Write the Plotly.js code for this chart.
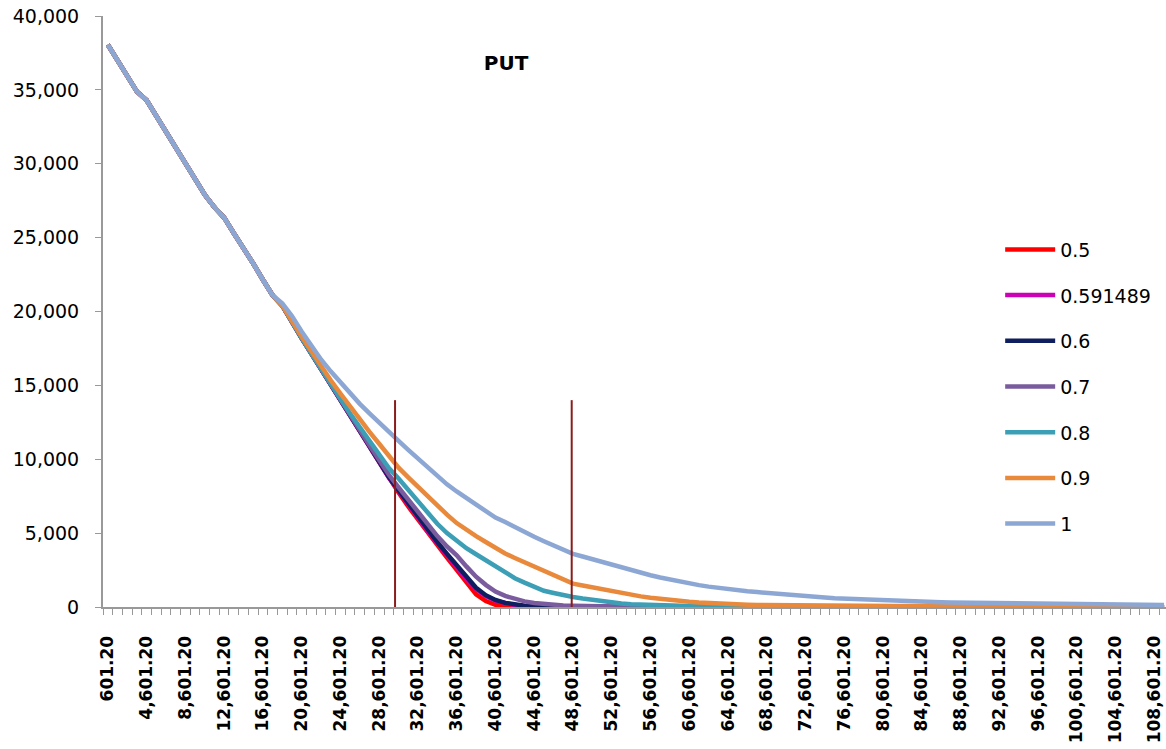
<!DOCTYPE html>
<html><head><meta charset="utf-8">
<script src="https://cdn.plot.ly/plotly-3.0.1.min.js"></script>
<style>html,body{margin:0;padding:0;background:#fff}#chart{width:1166px;height:749px}</style>
</head><body><div id="chart"></div>
<script>
// Category axis: underlying prices 601.20, 1,601.20, ... 109,601.20
const firstPrice = 601.2;
const priceStep = 1000;
const priceCount = 110;
const prices = Array.from({length: priceCount}, (_, i) => firstPrice + priceStep * i);
const labelEvery = 4;

const seriesNames = ['0.5', '0.591489', '0.6', '0.7', '0.8', '0.9', '1'];

const put05 = [38050,37000,35900,34880,34300,33250,32150,31100,30050,28980,
  27900,27050,26350,25300,24300,23250,22150,21100,20400,19250,
  18200,17150,16100,15050,14000,12950,11880,10800,9750,8700,
  7750,6800,5900,5000,4200,3350,2550,1700,850,400,
  150,50,10,0,0,0,0,0,0,0,
  0,0,0,0,0,0,0,0,0,0, 0,0,0,0,0,0,0,0,0,0, 0,0,0,0,0,0,0,0,0,0,
  0,0,0,0,0,0,0,0,0,0, 0,0,0,0,0,0,0,0,0,0, 0,0,0,0,0,0,0,0,0,0];

const put0591 = [38050,37000,35900,34880,34300,33250,32150,31100,30050,28980,
  27900,27050,26350,25300,24300,23250,22150,21100,20400,19250,
  18200,17150,16100,15050,14000,12950,11900,10850,9780,8750,
  7850,6930,6030,5150,4320,3500,2740,1900,1220,740,
  430,240,130,70,30,12,4,0,0,0,
  0,0,0,0,0,0,0,0,0,0, 0,0,0,0,0,0,0,0,0,0, 0,0,0,0,0,0,0,0,0,0,
  0,0,0,0,0,0,0,0,0,0, 0,0,0,0,0,0,0,0,0,0, 0,0,0,0,0,0,0,0,0,0];

const put06 = [38050,37000,35900,34880,34300,33250,32150,31100,30050,28980,
  27900,27050,26350,25300,24300,23250,22150,21100,20400,19250,
  18200,17150,16100,15050,14000,12950,11900,10850,9800,8800,
  7900,7000,6100,5250,4400,3600,2850,2000,1300,800,
  480,280,160,90,45,20,8,0,0,0,
  0,0,0,0,0,0,0,0,0,0, 0,0,0,0,0,0,0,0,0,0, 0,0,0,0,0,0,0,0,0,0,
  0,0,0,0,0,0,0,0,0,0, 0,0,0,0,0,0,0,0,0,0, 0,0,0,0,0,0,0,0,0,0];

const put07 = [38050,37000,35900,34880,34300,33250,32150,31100,30050,28980,
  27900,27050,26350,25300,24300,23250,22150,21100,20400,19250,
  18200,17150,16100,15100,14050,13000,11950,10950,9950,8950,
  8100,7250,6400,5550,4800,4100,3500,2750,2050,1500,
  1050,750,530,380,270,190,140,105,80,58,
  40,25,15,10,5,0,0,0,0,0,
  0,0,0,0,0,0,0,0,0,0, 0,0,0,0,0,0,0,0,0,0,
  0,0,0,0,0,0,0,0,0,0, 0,0,0,0,0,0,0,0,0,0, 0,0,0,0,0,0,0,0,0,0];

const put08 = [38050,37000,35900,34880,34300,33250,32150,31100,30050,28980,
  27900,27050,26350,25300,24300,23250,22150,21100,20400,19250,
  18200,17150,16100,15100,14100,13100,12150,11200,10250,9400,
  8700,7930,7160,6400,5630,5000,4450,3980,3570,3150,
  2720,2290,1950,1650,1350,1100,950,800,680,580,
  480,390,310,240,190,160,140,120,100,85,
  70,55,40,30,20,15,10,5,5,5,
  5,5,5,5,5,5,0,0,0,0,
  0,0,0,0,0,0,0,0,0,0, 0,0,0,0,0,0,0,0,0,0, 0,0,0,0,0,0,0,0,0,0];

const put09 = [38050,37000,35900,34880,34300,33250,32150,31100,30050,28980,
  27900,27050,26350,25300,24300,23250,22150,21100,20400,19300,
  18300,17300,16300,15350,14450,13550,12700,11850,11050,10200,
  9430,8780,8130,7480,6830,6250,5680,5200,4800,4400,
  4000,3620,3320,3030,2740,2450,2160,1870,1580,1450,
  1320,1200,1060,940,820,720,620,540,470,400,
  350,300,260,215,190,170,155,140,130,120,
  110,105,100,95,90,85,82,80,78,76,
  74,72,70,68,66,64,62,60,58,55,
  32,30,29,27,26,25,24,22,21,20,
  19,18,18,17,16,15,14,13,12,12];

const put10 = [38050,37000,35900,34880,34300,33250,32150,31100,30050,28980,
  27900,27050,26350,25300,24300,23250,22150,21100,20550,19700,
  18650,17650,16750,15950,15200,14450,13750,13100,12450,11850,
  11250,10640,10030,9420,8810,8300,7820,7360,6900,6450,
  6050,5750,5400,5050,4750,4450,4150,3850,3600,3420,
  3230,3040,2850,2680,2540,2350,2150,2000,1860,1720,
  1580,1480,1380,1290,1200,1130,1070,1010,950,880,
  820,770,720,680,640,600,570,530,500,470,
  440,420,400,370,355,340,325,310,300,290,
  280,270,260,250,240,230,222,214,206,198,
  190,184,178,172,166,160,155,150,145,140];

const seriesValues = [put05, put0591, put06, put07, put08, put09, put10];
const seriesColors = ['#FF0000', '#CC00B4', '#0F1E5E', '#7A5C9E', '#3C9FB5', '#E8893B', '#8DA7D4'];

// marker lines (price levels) drawn up to this value
const refLinePrices = [30240, 48470];
const refLineTop = 14000;
const chartTitle = 'PUT';

const FONT = 'DejaVu Sans, Verdana, sans-serif';

const traces = seriesValues.map((vals, k) => ({
  type: 'scatter', mode: 'lines',
  x: prices, y: vals,
  name: seriesNames[k], legendgroup: 'g' + k,
  line: {color: seriesColors[k], width: 4.5},
  hoverinfo: 'x+y+name'
}));

const labelTicks = prices.filter((_, i) => i % labelEvery === 0);

const layout = {
  width: 1166, height: 749,
  margin: {l: 103, r: 0, t: 16, b: 142},
  paper_bgcolor: '#ffffff', plot_bgcolor: '#ffffff',
  title: {text: '<b>' + chartTitle + '</b>', font: {family: FONT, size: 20, color: '#000'},
          x: 0.434, y: 0.916, xanchor: 'center', yanchor: 'middle', xref: 'container', yref: 'container'},
  showlegend: true,
  legend: {x: 0.844, y: 0.637, xanchor: 'left', yanchor: 'top', font: {family: FONT, size: 19, color: '#000'},
           itemwidth: 50, tracegroupgap: 18, bgcolor: 'rgba(0,0,0,0)', traceorder: 'grouped'},
  xaxis: {
    range: [firstPrice - priceStep / 2, firstPrice - priceStep / 2 + priceStep * 109.7],
    tickvals: labelTicks, tickformat: ',.2f', tickangle: -90,
    ticks: '', showline: true, linecolor: '#999', linewidth: 2, showgrid: false, zeroline: false,
    tickfont: {family: FONT, size: 17, color: '#000', weight: 'bold'},
    ticklabelstandoff: 20,
    minor: {tick0: firstPrice - priceStep / 2, dtick: priceStep, ticks: 'outside', ticklen: 6, tickcolor: '#999', tickwidth: 1, showgrid: false}
  },
  yaxis: {
    range: [0, 40000], tick0: 0, dtick: 5000, tickformat: ',',
    ticks: 'outside', ticklen: 6, tickcolor: '#999', tickwidth: 1,
    showline: true, linecolor: '#999', linewidth: 2, showgrid: false, zeroline: false,
    tickfont: {family: FONT, size: 19, color: '#000'},
    ticklabelstandoff: 12
  },
  shapes: refLinePrices.map(p => ({type: 'line', xref: 'x', yref: 'y', x0: p, x1: p, y0: 0, y1: refLineTop,
    line: {color: '#8B1C1C', width: 2}}))
};

Plotly.newPlot('chart', traces, layout, {displayModeBar: false, staticPlot: false});
</script>
</body></html>
